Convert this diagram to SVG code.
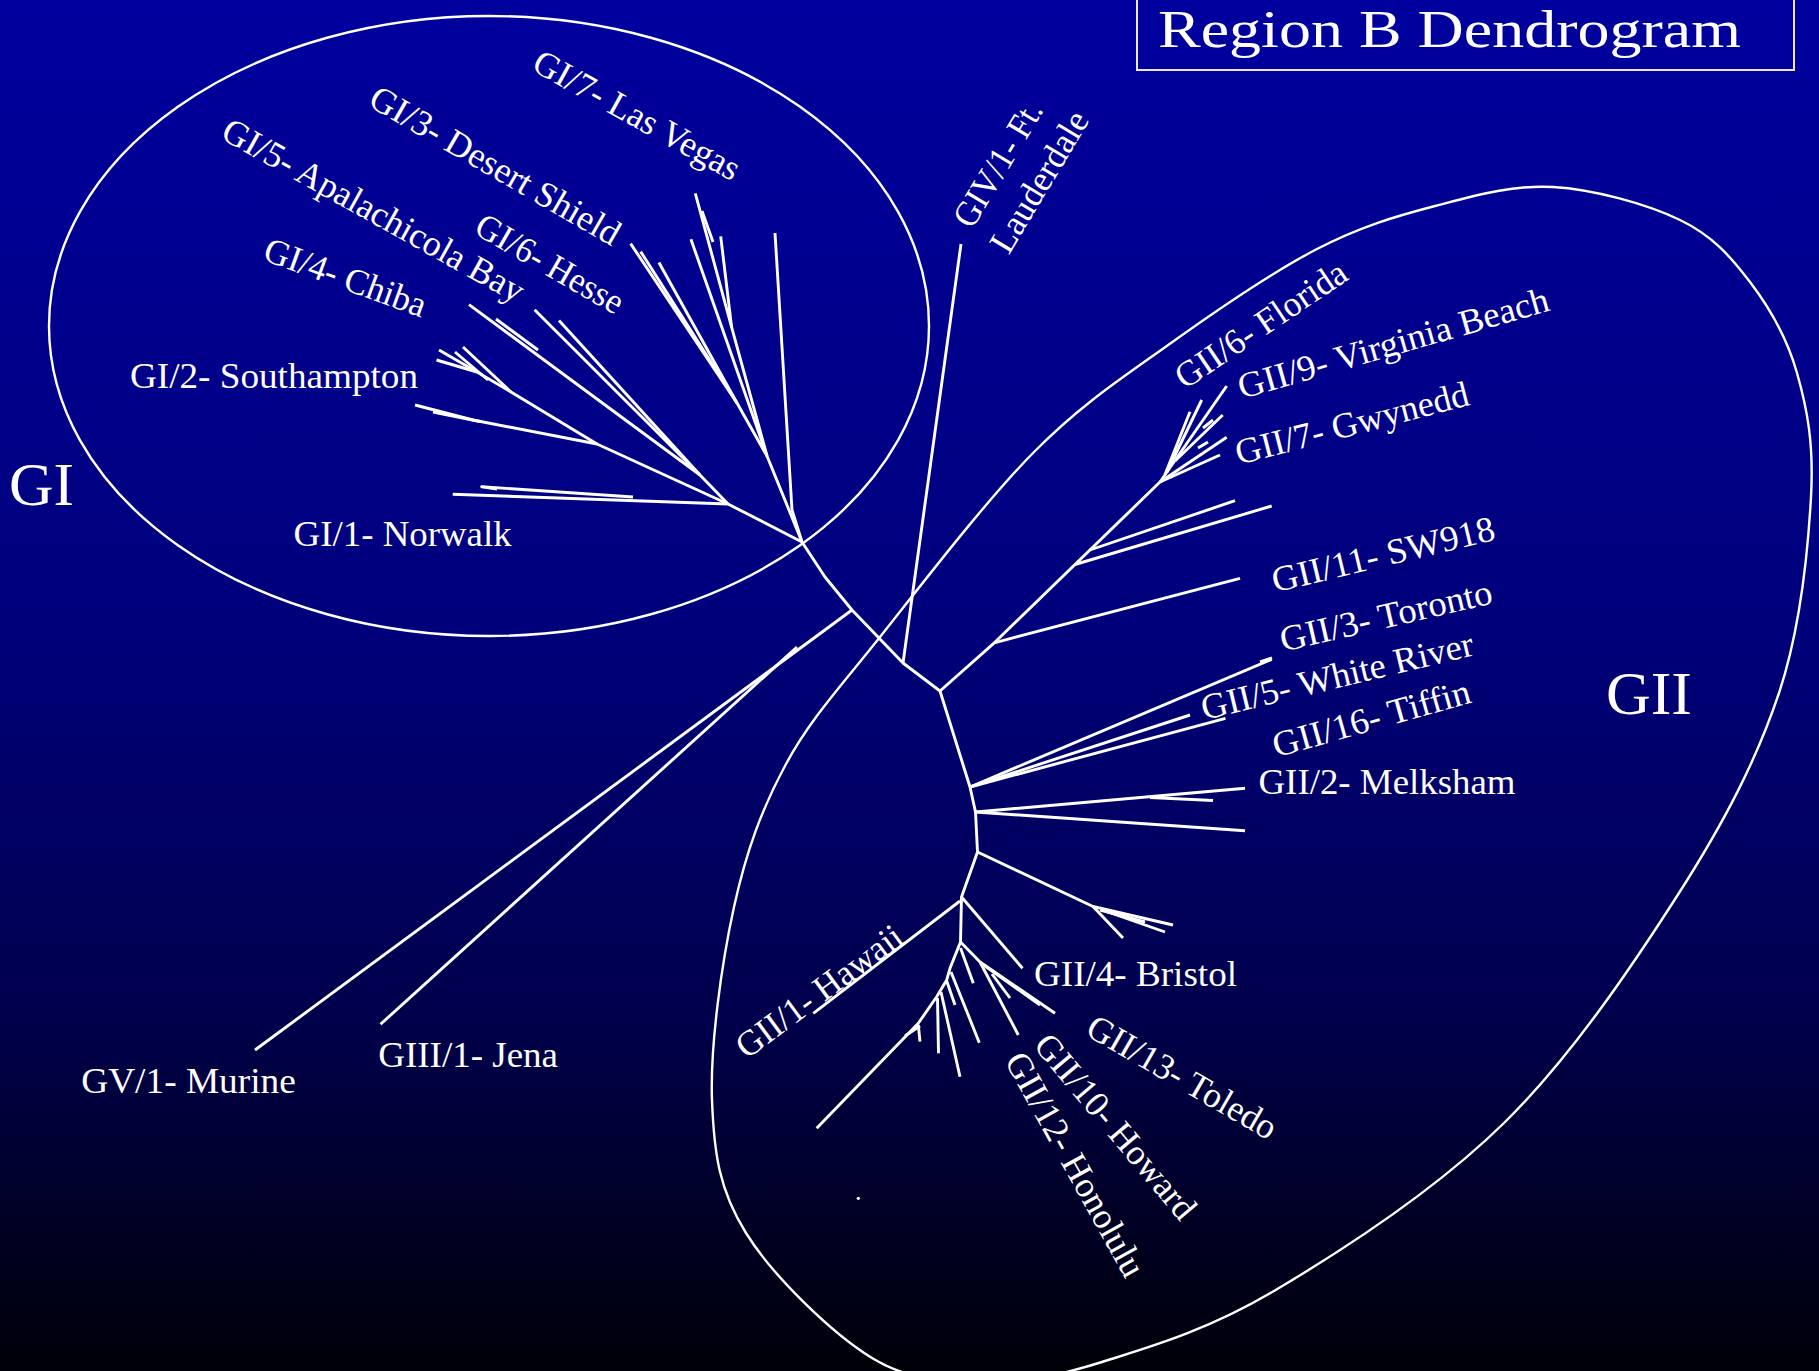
<svg xmlns="http://www.w3.org/2000/svg" width="1819" height="1371" viewBox="0 0 1819 1371">
<defs>
<linearGradient id="bg" x1="0" y1="0" x2="0" y2="1">
<stop offset="0" stop-color="#00009e"/>
<stop offset="0.45" stop-color="#00007c"/>
<stop offset="0.75" stop-color="#00004a"/>
<stop offset="1" stop-color="#000008"/>
</linearGradient>
<style>
.br{fill:none;stroke:#ffffff;stroke-width:2.9;stroke-linejoin:round;stroke-linecap:butt}
.ol{fill:none;stroke:#ffffff;stroke-width:2.4}
.t{font-family:"Liberation Serif","Times New Roman",serif;font-size:36px;fill:#ffffff}
.r{text-anchor:middle;dominant-baseline:central}
.big{font-family:"Liberation Serif","Times New Roman",serif;font-size:62px;fill:#ffffff}
</style>
</defs>
<rect x="0" y="0" width="1819" height="1371" fill="url(#bg)"/>

<g id="title">
<rect x="1137" y="-5" width="657" height="75" fill="none" stroke="#e8e8e8" stroke-width="2"/>
<text class="big" x="1158" y="47" style="font-size:52px" textLength="583" lengthAdjust="spacingAndGlyphs">Region B Dendrogram</text>
</g>

<g id="cluster-GI">
<ellipse class="ol" cx="489" cy="326" rx="440" ry="310"/>
<text class="big" x="9" y="505" textLength="65" lengthAdjust="spacingAndGlyphs">GI</text>
</g>

<g id="cluster-GII">
<path class="ol" d="M712,1100 C710,1045.7 721.7,963 734,907 C746.3,851 761.7,809 786,764 C810.3,719 838.7,689 880,637 C921.3,585 985.5,501 1034,452 C1082.5,403 1123.8,376.8 1171,343 C1218.2,309.2 1273,271.8 1317,249 C1361,226.2 1395.7,216.3 1435,206 C1474.3,195.7 1512.2,184.7 1553,187 C1593.8,189.3 1647.2,204.2 1680,220 C1712.8,235.8 1730.5,256.5 1750,282 C1769.5,307.5 1786.8,337.2 1797,373 C1807.2,408.8 1814,443.7 1811,497 C1808,550.3 1801,627 1779,693 C1757,759 1724.8,821.3 1679,893 C1633.2,964.7 1571.5,1056.7 1504,1123 C1436.5,1189.3 1341,1251.2 1274,1291 C1207,1330.8 1149.8,1347 1102,1362 C1054.2,1377 1025.3,1381.7 987,1381 C948.7,1380.3 912.2,1382.7 872,1358 C831.8,1333.3 772.7,1276 746,1233 C719.3,1190 714,1154.3 712,1100 Z"/>
<text class="big" x="1606" y="714" textLength="86" lengthAdjust="spacingAndGlyphs">GII</text>
</g>

<g id="connectors">
<path class="br" d="M802,542 L728,504 L452.7,494.3"/>
<path class="br" d="M633,497 L481.7,486.7 L497,489"/>
<path class="br" d="M728,504 L597,444 L473,420 L415,405"/>
<path class="br" d="M480,421.5 L433,412"/>
<path class="br" d="M597,444 L511,392 L463,347"/>
<path class="br" d="M511,392 L477,372 L439,350"/>
<path class="br" d="M477,372 L436.5,360"/>
<path class="br" d="M488,380 L455,352"/>
<path class="br" d="M728,504 L700,475 L469,304.6"/>
<path class="br" d="M700,475 L534.6,309.7"/>
<path class="br" d="M700,475 L559,320.6"/>
<path class="br" d="M538,350 L496,319"/>
<path class="br" d="M802,542 L767,456 L737,403 L630.6,243.6"/>
<path class="br" d="M737,403 L640.7,251.6"/>
<path class="br" d="M737,403 L658.9,262.5"/>
<path class="br" d="M767,456 L690.9,239.2"/>
<path class="br" d="M767,456 L731.6,327.2 L695.3,193.4"/>
<path class="br" d="M731.6,327.2 L720.7,236.3"/>
<path class="br" d="M713,242 L702,211"/>
<path class="br" d="M802,542 L792,510 L775,233"/>
<path class="br" d="M802,542 L825,577 L852,610 L903,663 L940,691 L970,787 L975.5,812 L977.5,852 L961.5,897 L960.5,942"/>
<path class="br" d="M903,663 L961,244"/>
<path class="br" d="M852,610 L255,1050"/>
<path class="br" d="M797,647 L380.5,1024.3"/>
<path class="br" d="M940,691 L994.3,642.8 L1160,482"/>
<path class="br" d="M994.3,642.8 L1240,578.3"/>
<path class="br" d="M1075,564.5 L1271.7,506"/>
<path class="br" d="M1090,550 L1235,500.7"/>
<path class="br" d="M1160,482 L1226.7,386"/>
<path class="br" d="M1167,472 L1201.7,400"/>
<path class="br" d="M1165,474.5 L1190,411.7"/>
<path class="br" d="M1175,461 L1222.7,415"/>
<path class="br" d="M1160,482 L1226.7,437.3"/>
<path class="br" d="M1160,482 L1220,455"/>
<path class="br" d="M1203,428 L1213,420"/>
<path class="br" d="M1198,448 L1208,442"/>
<path class="br" d="M970,787 L1271.7,659.3"/>
<path class="br" d="M1260,662 L1272,658"/>
<path class="br" d="M970,787 L1190,715"/>
<path class="br" d="M970,787 L1225.5,718.3"/>
<path class="br" d="M975.5,812 L1245,788.3"/>
<path class="br" d="M1150,797.5 L1213,800.5"/>
<path class="br" d="M975.5,812 L1245,830.7"/>
<path class="br" d="M977.5,852 L1093,906.5 L1173,925"/>
<path class="br" d="M1108,912 L1165,932"/>
<path class="br" d="M1093,906.5 L1123,938"/>
<path class="br" d="M1100,910 L1145,922"/>
<path class="br" d="M961.5,897 L1022.5,968.3"/>
<path class="br" d="M960,901 L813.3,1013.3"/>
<path class="br" d="M960.5,942 L980,962 L1055,1013.3"/>
<path class="br" d="M980,962 L1018.3,1035"/>
<path class="br" d="M985,966 L1040,1005"/>
<path class="br" d="M992,974 L1010,998"/>
<path class="br" d="M960.5,948 L973.3,983.3"/>
<path class="br" d="M960.5,942 L950,968.3 L946.7,980 L936.7,996.7 L918.3,1023.3 L816.7,1128.3"/>
<path class="br" d="M951,972 L979.3,1042.7"/>
<path class="br" d="M946.7,981 L955,1005"/>
<path class="br" d="M941,992 L960,1076.7"/>
<path class="br" d="M937.5,998 L938.5,1053.3"/>
<path class="br" d="M918.3,1025 L920,1041.7"/>
<path class="br" d="M905,1036 L920,1026"/>
<circle cx="858.3" cy="1198.3" r="1.6" fill="#ffffff"/>
</g>

<g id="GI-7"><text class="t r" transform="translate(637,115) rotate(29)" textLength="231" lengthAdjust="spacingAndGlyphs">GI/7- Las Vegas</text></g>
<g id="GI-3"><text class="t r" transform="translate(495.3,165.4) rotate(30)" textLength="283" lengthAdjust="spacingAndGlyphs">GI/3- Desert Shield</text></g>
<g id="GI-5"><text class="t r" transform="translate(373.6,210.3) rotate(29.2)" textLength="340" lengthAdjust="spacingAndGlyphs">GI/5- Apalachicola Bay</text></g>
<g id="GI-6"><text class="t r" transform="translate(549.9,263.6) rotate(30)" textLength="165" lengthAdjust="spacingAndGlyphs">GI/6- Hesse</text></g>
<g id="GI-4"><text class="t r" transform="translate(345.4,277.2) rotate(20)" textLength="170" lengthAdjust="spacingAndGlyphs">GI/4- Chiba</text></g>
<g id="GI-2"><text class="t" x="130" y="388" textLength="288" lengthAdjust="spacingAndGlyphs">GI/2- Southampton</text></g>
<g id="GI-1"><text class="t" x="293.6" y="546.4" textLength="218" lengthAdjust="spacingAndGlyphs">GI/1- Norwalk</text></g>
<g id="GIV-1">
<text class="t r" transform="translate(997.8,163.8) rotate(-59)" textLength="140" lengthAdjust="spacingAndGlyphs">GIV/1- Ft.</text>
<text class="t r" transform="translate(1039.1,181.5) rotate(-59)" textLength="158" lengthAdjust="spacingAndGlyphs">Lauderdale</text>
</g>
<g id="GII-6"><text class="t r" transform="translate(1260.9,324.3) rotate(-34)" textLength="199" lengthAdjust="spacingAndGlyphs">GII/6- Florida</text></g>
<g id="GII-9"><text class="t r" transform="translate(1393.2,343.1) rotate(-16)" textLength="322" lengthAdjust="spacingAndGlyphs">GII/9- Virginia Beach</text></g>
<g id="GII-7"><text class="t r" transform="translate(1351.9,423.2) rotate(-14.5)" textLength="240" lengthAdjust="spacingAndGlyphs">GII/7- Gwynedd</text></g>
<g id="GII-11"><text class="t r" transform="translate(1383.1,554.3) rotate(-13.5)" textLength="228" lengthAdjust="spacingAndGlyphs">GII/11- SW918</text></g>
<g id="GII-3"><text class="t r" transform="translate(1385.9,615.7) rotate(-13)" textLength="217" lengthAdjust="spacingAndGlyphs">GII/3- Toronto</text></g>
<g id="GII-5"><text class="t r" transform="translate(1337.1,675.8) rotate(-13.5)" textLength="279" lengthAdjust="spacingAndGlyphs">GII/5- White River</text></g>
<g id="GII-16"><text class="t r" transform="translate(1371.3,718.3) rotate(-15.7)" textLength="204" lengthAdjust="spacingAndGlyphs">GII/16- Tiffin</text></g>
<g id="GII-2"><text class="t" x="1258.5" y="794" textLength="257" lengthAdjust="spacingAndGlyphs">GII/2- Melksham</text></g>
<g id="GII-4"><text class="t" x="1034" y="986.4" textLength="203" lengthAdjust="spacingAndGlyphs">GII/4- Bristol</text></g>
<g id="GII-1"><text class="t r" transform="translate(819.1,991.2) rotate(-36.5)" textLength="198" lengthAdjust="spacingAndGlyphs">GII/1- Hawaii</text></g>
<g id="GII-13"><text class="t r" transform="translate(1182.2,1077) rotate(30)" textLength="213" lengthAdjust="spacingAndGlyphs">GII/13- Toledo</text></g>
<g id="GII-10"><text class="t r" transform="translate(1115.6,1126.5) rotate(50)" textLength="230" lengthAdjust="spacingAndGlyphs">GII/10- Howard</text></g>
<g id="GII-12"><text class="t r" transform="translate(1075.4,1164.4) rotate(61)" textLength="251" lengthAdjust="spacingAndGlyphs">GII/12- Honolulu</text></g>
<g id="GV-1"><text class="t" x="81.2" y="1092.8" textLength="214.6" lengthAdjust="spacingAndGlyphs">GV/1- Murine</text></g>
<g id="GIII-1"><text class="t" x="378.2" y="1067" textLength="179.8" lengthAdjust="spacingAndGlyphs">GIII/1- Jena</text></g>
</svg>
